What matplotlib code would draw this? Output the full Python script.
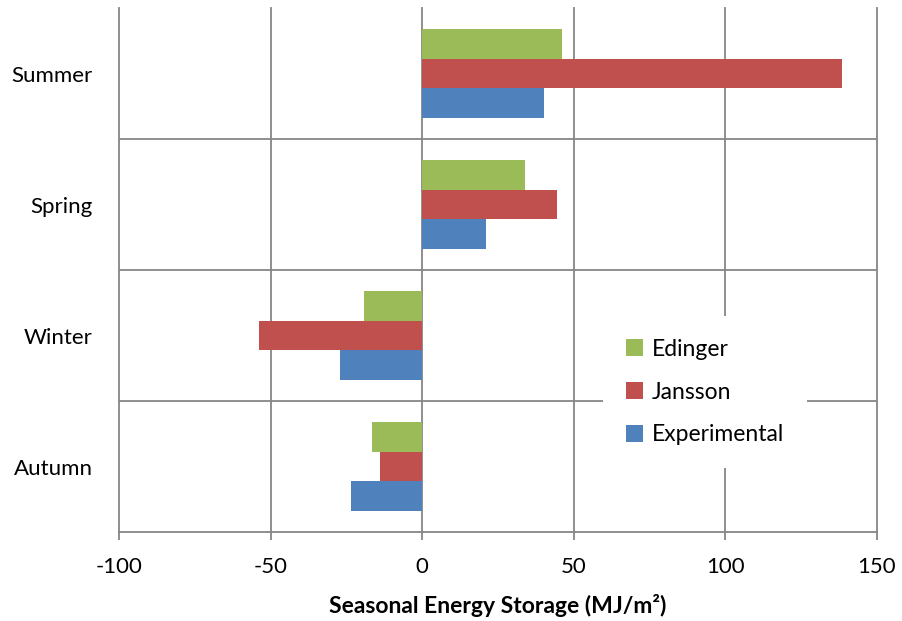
import matplotlib.pyplot as plt
import numpy as np

plt.rcParams['font.family'] = ['Lato', 'DejaVu Sans']

seasons = ["Autumn", "Winter", "Spring", "Summer"]
edinger = [-16.5, -19.1, 33.8, 46.0]
jansson = [-13.9, -53.7, 44.4, 138.6]
experimental = [-23.4, -27.2, 21.0, 40.1]
xticks = [-100, -50, 0, 50, 100, 150]

grid_col = "#868686"

fig = plt.figure(figsize=(9.03, 6.21), dpi=100)
ax = fig.add_axes([0.1318, 0.1433, 0.8394, 0.8438])

y = np.arange(len(seasons))
h = 0.225
ax.barh(y + h, edinger, height=h, color="#9BBB59", label="Edinger", zorder=3)
ax.barh(y, jansson, height=h, color="#C0504D", label="Jansson", zorder=3)
ax.barh(y - h, experimental, height=h, color="#4F81BD", label="Experimental", zorder=3)

ax.set_xlim(-100, 150)
ax.set_ylim(-0.5, 3.5)
ax.set_xticks(xticks)
ax.set_xticklabels([str(v) for v in xticks], fontsize=16)
ax.set_yticks(y)
ax.set_yticklabels(seasons, fontsize=16)
ax.tick_params(axis="y", length=0, pad=19)
ax.tick_params(axis="x", length=6, width=1.3, color=grid_col, pad=12)

for v in xticks:
    ax.axvline(v, color=grid_col, lw=1.3, zorder=1, clip_on=False)
for b in [0.5, 1.5, 2.5]:
    ax.axhline(b, color=grid_col, lw=1.3, zorder=1)

for s in ["top", "left", "right"]:
    ax.spines[s].set_visible(False)
ax.spines["bottom"].set_color(grid_col)
ax.spines["bottom"].set_linewidth(1.3)

ax.set_xlabel("Seasonal Energy Storage (MJ/m²)", fontsize=16.5, fontweight="bold", labelpad=12)

leg = ax.legend(loc="center", bbox_to_anchor=(0.773, 0.267), fontsize=16.5,
                frameon=True, facecolor="white", edgecolor="none", framealpha=1,
                handlelength=0.75, handleheight=0.75, labelspacing=0.95,
                borderpad=1.0, handletextpad=0.35)
leg.set_zorder(5)

fig.savefig("out.png", dpi=100)
